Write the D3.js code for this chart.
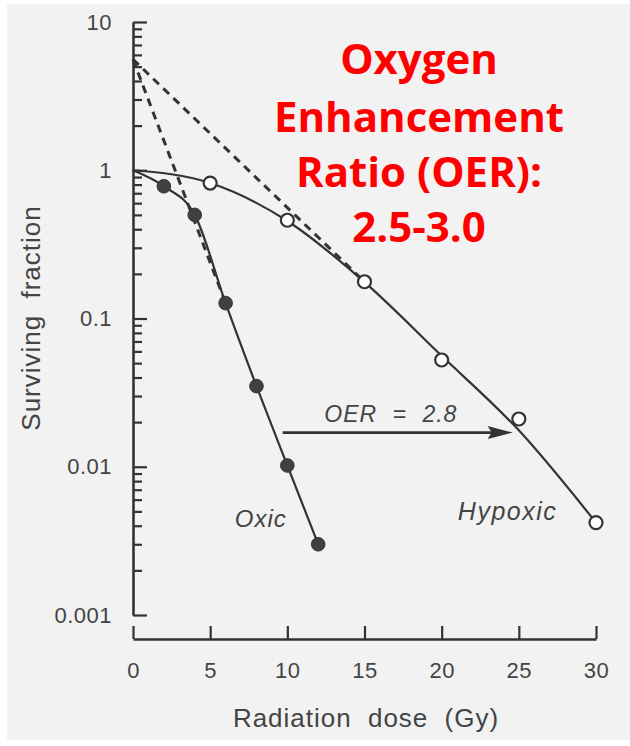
<!DOCTYPE html>
<html>
<head>
<meta charset="utf-8">
<script src="https://cdn.jsdelivr.net/npm/d3@7"></script>
<style>
  html, body { margin: 0; padding: 0; background: #ffffff; }
  svg { display: block; }
</style>
</head>
<body>
<svg id="chart" width="630" height="746"></svg>
<script>
// Cell survival after a single dose: oxic (filled) vs hypoxic (open) cells
const oxicDose = [2, 4, 6, 8, 10, 12];
const oxicSurv = [0.78, 0.50, 0.127, 0.035, 0.0102, 0.0030];

const hypoxicDose = [5, 10, 15, 20, 25, 30];
const hypoxicSurv = [0.82, 0.46, 0.177, 0.0525, 0.021, 0.0042];

// Drawn survival curves
const oxicCurveDose = [0, 2, 4, 6, 8, 10, 12];
const oxicCurveSurv = [1, 0.78, 0.50, 0.127, 0.035, 0.0102, 0.0030];
const hypoxicCurveDose = [0, 5, 10, 15, 20, 25, 30];
const hypoxicCurveSurv = [1, 0.82, 0.455, 0.176, 0.056, 0.0176, 0.0042];

// Back-extrapolated straight portions (dashed)
const oxicExtrapDose = [0, 6];
const oxicExtrapSurv = [5.6, 0.127];
const hypoxicExtrapDose = [0, 15];
const hypoxicExtrapSurv = [5.6, 0.177];

// Iso-effect arrow between the two curves
const oerArrowDose = [9.7, 24.6];
const oerArrowSurv = 0.017;
const oerLabel = "OER = 2.8";

const doseTicks = [0, 5, 10, 15, 20, 25, 30];
const survTicks = [0.001, 0.01, 0.1, 1, 10];
const survTickLabels = ["0.001", "0.01", "0.1", "1", "10"];

const titleLines = ["Oxygen", "Enhancement", "Ratio (OER):", "2.5-3.0"];

const ink = "#333333";
const textInk = "#444444";
const axisFont = "'Liberation Sans', Arial, Helvetica, sans-serif";

const svg = d3.select("#chart");

// paper
svg.append("rect").attr("x", 7).attr("y", 4).attr("width", 623).attr("height", 736)
  .attr("fill", "#f2f2f2");

const x = d3.scaleLinear().domain([0, 30]).range([133, 596]);
const y = d3.scaleLog().domain([0.001, 10]).range([615, 22]);

// y axis: major ticks with labels, minor ticks shorter, all pointing inward
const yMajor = svg.append("g").attr("transform", "translate(133,0)")
  .call(d3.axisLeft(y).tickValues(survTicks)
    .tickFormat((d, i) => survTickLabels[i])
    .tickSize(-14).tickSizeOuter(0).tickPadding(21));
const minor = y.ticks().filter(d => Math.abs(Math.log10(d) - Math.round(Math.log10(d))) > 1e-6);
const yMinor = svg.append("g").attr("transform", "translate(133,0)")
  .call(d3.axisLeft(y).tickValues(minor).tickFormat("").tickSize(-9).tickSizeOuter(0));
yMinor.select(".domain").remove();

const xAxis = svg.append("g").attr("transform", "translate(0,639)")
  .call(d3.axisBottom(x).tickValues(doseTicks).tickSize(-13).tickSizeOuter(0).tickPadding(23));

[yMajor, yMinor, xAxis].forEach(g => {
  g.selectAll(".domain").attr("stroke", ink).attr("stroke-width", 2.6);
  g.selectAll(".tick line").attr("stroke", ink).attr("stroke-width", 2.2);
  g.selectAll(".tick text")
    .attr("fill", textInk)
    .style("font-family", axisFont)
    .style("font-size", "22px")
    .style("letter-spacing", "0.5px");
});

// axis titles
svg.append("text")
  .attr("transform", "translate(40,318) rotate(-90)")
  .attr("text-anchor", "middle")
  .attr("fill", textInk)
  .style("font-family", axisFont).style("font-size", "26px")
  .style("letter-spacing", "1px").style("word-spacing", "8px")
  .text("Surviving fraction");

svg.append("text")
  .attr("x", 366).attr("y", 727)
  .attr("text-anchor", "middle")
  .attr("fill", textInk)
  .style("font-family", axisFont).style("font-size", "26px")
  .style("letter-spacing", "1px").style("word-spacing", "8px")
  .text("Radiation dose (Gy)");

// dashed extrapolations
const straight = d3.line().x(d => x(d[0])).y(d => y(d[1]));
[[oxicExtrapDose, oxicExtrapSurv], [hypoxicExtrapDose, hypoxicExtrapSurv]].forEach(([ds, ss]) => {
  svg.append("path")
    .attr("d", straight(d3.zip(ds, ss)))
    .attr("fill", "none").attr("stroke", ink)
    .attr("stroke-width", 3).attr("stroke-dasharray", "8,6");
});

// survival curves
const smooth = d3.line().x(d => x(d[0])).y(d => y(d[1])).curve(d3.curveMonotoneX);
[[oxicCurveDose, oxicCurveSurv], [hypoxicCurveDose, hypoxicCurveSurv]].forEach(([ds, ss]) => {
  svg.append("path")
    .attr("d", smooth(d3.zip(ds, ss)))
    .attr("fill", "none").attr("stroke", ink).attr("stroke-width", 2.2);
});

// data points
svg.append("g").selectAll("circle").data(d3.zip(hypoxicDose, hypoxicSurv)).join("circle")
  .attr("cx", d => x(d[0])).attr("cy", d => y(d[1])).attr("r", 6.5)
  .attr("fill", "#ffffff").attr("stroke", ink).attr("stroke-width", 2.2);
svg.append("g").selectAll("circle").data(d3.zip(oxicDose, oxicSurv)).join("circle")
  .attr("cx", d => x(d[0])).attr("cy", d => y(d[1])).attr("r", 6.8)
  .attr("fill", "#404040").attr("stroke", "#333333").attr("stroke-width", 1);

// OER arrow
const ay = y(oerArrowSurv);
const ax0 = x(oerArrowDose[0]), ax1 = x(oerArrowDose[1]);
svg.append("line").attr("x1", ax0).attr("x2", ax1 - 12).attr("y1", ay).attr("y2", ay)
  .attr("stroke", ink).attr("stroke-width", 2.6);
svg.append("path")
  .attr("d", `M${ax1},${ay} L${ax1 - 25},${ay - 6.5} L${ax1 - 21},${ay} L${ax1 - 25},${ay + 6.5} Z`)
  .attr("fill", ink);
svg.append("text")
  .attr("x", x(12.4)).attr("y", y(0.020))
  .attr("fill", textInk)
  .style("font-family", axisFont).style("font-size", "23px").style("font-style", "italic")
  .style("letter-spacing", "1px").style("word-spacing", "8px")
  .text(oerLabel);

// series labels
svg.append("text")
  .attr("x", x(6.6)).attr("y", y(0.0039))
  .attr("fill", textInk)
  .style("font-family", axisFont).style("font-size", "24px").style("font-style", "italic")
  .style("letter-spacing", "1px")
  .text("Oxic");
svg.append("text")
  .attr("x", x(21.05)).attr("y", y(0.0044))
  .attr("fill", textInk)
  .style("font-family", axisFont).style("font-size", "25px").style("font-style", "italic")
  .style("letter-spacing", "1.5px")
  .text("Hypoxic");

// headline
const baselines = [74, 132, 187, 242];
svg.append("g").selectAll("text").data(titleLines).join("text")
  .attr("x", 419).attr("y", (d, i) => baselines[i])
  .attr("text-anchor", "middle")
  .attr("fill", "#ff0000")
  .style("font-family", "'Comic Sans MS', 'Open Sans', 'Noto Sans', sans-serif")
  .style("font-weight", "bold")
  .style("font-size", "42px")
  .text(d => d);
</script>
</body>
</html>
